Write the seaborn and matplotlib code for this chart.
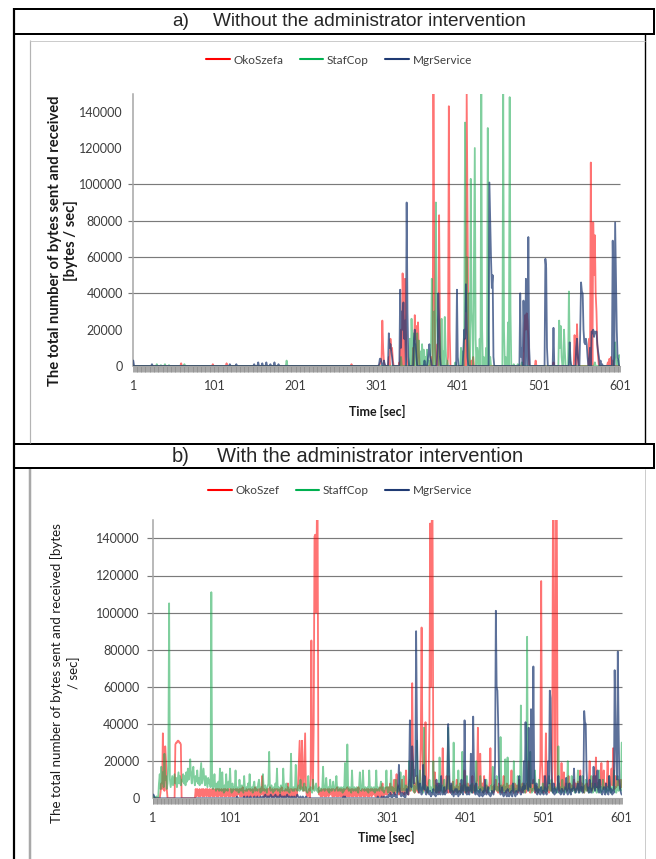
import numpy as np
import pandas as pd
import matplotlib
matplotlib.use("Agg")
import matplotlib.pyplot as plt
import seaborn as sns
from matplotlib.lines import Line2D

# ------------------------------------------------------------------ data
series_a = ["OkoSzefa", "StafCop", "MgrService"]
series_b = ["OkoSzef", "StaffCop", "MgrService"]
time_s = list(range(1, 602))
x_tick_labels = [1, 101, 201, 301, 401, 501, 601]
y_ticks = [0, 20000, 40000, 60000, 80000, 100000, 120000, 140000]
grid_a = [40000, 60000, 80000, 100000]
grid_b = [20000, 40000, 60000, 80000, 100000, 120000, 140000]

# panel a: non-zero samples {second: kB/s}; every other second is 0
oko_a = {60: 1.5, 99: 1, 116: 1.5, 270: 1, 305: 1, 306: 2, 307: 3, 308: 25, 309: 10, 310: 2,
         316: 5, 318: 15, 319: 9, 320: 10, 321: 3, 329: 2, 331: 20, 333: 51, 334: 30, 336: 48,
         337: 20, 338: 5, 346: 10, 348: 28, 349: 15, 350: 22, 352: 24, 353: 8, 368: 5, 371: 150,
         372: 60, 373: 10, 376: 12, 378: 83, 379: 20, 389: 5, 390: 143, 391: 20, 410: 15, 412: 150,
         413: 88, 414: 20, 415: 5, 418: 3, 420: 5, 483: 18, 484: 28, 485: 20, 486: 29, 487: 25,
         488: 15, 497: 3, 519: 2, 545: 17, 546: 5, 548: 23, 549: 8, 563: 15, 565: 112, 566: 40,
         568: 79, 569: 50, 570: 72, 571: 40, 572: 30, 573: 12, 574: 5, 586: 2, 588: 4, 590: 5, 592: 3}
staff_a = {30: 1, 35: 0.5, 40: 1, 45: 0.5, 64: 1, 190: 3, 331: 5, 342: 15, 344: 26, 345: 10,
           347: 18, 349: 12, 351: 18, 353: 14, 355: 8, 357: 12, 359: 9, 361: 5, 363: 9, 365: 3,
           368: 10, 369: 48, 370: 20, 372: 30, 374: 90, 375: 30, 376: 20, 377: 10, 379: 5, 381: 26,
           383: 8, 385: 27, 386: 10, 388: 3, 398: 2, 405: 10, 407: 8, 409: 20, 410: 134, 411: 30,
           412: 60, 413: 25, 415: 40, 417: 103, 418: 30, 419: 20, 421: 60, 422: 120, 423: 15,
           425: 10, 426: 5, 428: 15, 430: 150, 431: 20, 433: 5, 436: 10, 438: 131, 439: 20, 441: 5,
           457: 150, 458: 20, 460: 5, 463: 24, 465: 148, 466: 30, 470: 1, 475: 1, 480: 2, 526: 25,
           527: 10, 528: 22, 529: 5, 532: 20, 533: 8, 538: 41, 539: 10, 570: 2, 594: 5, 595: 13,
           596: 5, 598: 3, 600: 6, 601: 5}
mgr_a = {1: 3, 24: 1, 120: 1, 128: 1, 150: 1, 155: 2, 160: 1.5, 165: 2, 170: 1, 175: 2, 180: 1,
         304: 1, 305: 4, 306: 4, 307: 2, 310: 3, 311: 1, 316: 18, 317: 10, 318: 12, 319: 8, 320: 5,
         330: 42, 331: 10, 332: 30, 333: 20, 334: 35, 335: 15, 336: 25, 338: 90, 339: 30, 340: 5,
         347: 15, 348: 20, 349: 12, 350: 5, 360: 3, 364: 3, 365: 8, 366: 12, 367: 5, 368: 3,
         376: 10, 377: 40, 378: 25, 379: 5, 400: 42, 401: 5, 408: 10, 409: 20, 410: 15, 411: 45,
         412: 25, 413: 5, 440: 101, 441: 80, 442: 59, 443: 43, 444: 50, 445: 5, 478: 40, 479: 5,
         480: 10, 482: 36, 483: 15, 485: 48, 486: 20, 488: 71, 489: 10, 509: 59, 510: 54, 511: 10,
         519: 21, 539: 13, 540: 3, 547: 10, 548: 15, 549: 5, 552: 20, 553: 46, 554: 41, 555: 40,
         556: 20, 557: 13, 558: 12, 559: 15, 560: 12, 561: 5, 564: 10, 566: 19, 567: 18, 568: 20,
         569: 16, 570: 19, 571: 18, 572: 19, 573: 12, 574: 8, 575: 5, 577: 3, 579: 1, 592: 69,
         593: 40, 595: 79, 596: 50, 597: 20, 598: 5, 599: 3}

# panel b: one value per second (kB/s), 20 seconds per row
oko_b = [
    0, 0, 0, 0, 0, 0, 0, 0, 0, 0, 3, 8, 5, 35, 12, 4, 28, 20, 5, 0,
    0, 0, 0, 0, 0, 0, 0, 0, 0, 29, 30, 30, 31, 31, 30, 30, 29, 0, 0, 0,
    0, 0, 0, 0, 0, 0, 0, 0, 0, 0, 0, 0, 0, 0, 0, 5, 1, 5, 4, 1,
    5, 1, 4, 5, 1, 5, 1, 4, 5, 1, 5, 4, 1, 5, 1, 4, 5, 1, 5, 1,
    4, 5, 1, 5, 1, 5, 4, 1, 5, 1, 4, 5, 1, 5, 1, 4, 5, 1, 5, 1,
    5, 4, 1, 5, 1, 4, 5, 1, 5, 2, 4, 5, 1, 5, 1, 6, 5, 1, 4, 1,
    5, 4, 1, 5, 1, 5, 4, 1, 5, 1, 4, 6, 1, 5, 1, 4, 5, 1, 5, 2,
    12, 4, 1, 5, 1, 4, 5, 1, 5, 1, 6, 4, 1, 5, 1, 4, 5, 1, 5, 1,
    5, 4, 1, 5, 1, 6, 5, 1, 4, 1, 5, 4, 1, 8, 1, 4, 5, 1, 5, 1,
    4, 5, 1, 5, 1, 4, 8, 20, 31, 5, 12, 31, 8, 4, 20, 35, 6, 2, 1, 3,
    5, 0, 10, 85, 20, 5, 40, 141, 142, 100, 150, 150, 5, 2, 4, 1, 5, 1, 4, 5,
    1, 5, 1, 4, 5, 1, 5, 2, 4, 5, 1, 5, 1, 4, 5, 1, 6, 1, 4, 5,
    1, 5, 1, 4, 5, 1, 5, 1, 4, 6, 1, 5, 1, 4, 5, 1, 5, 1, 4, 5,
    1, 5, 1, 6, 5, 1, 4, 1, 5, 4, 1, 5, 1, 4, 5, 1, 5, 1, 4, 5,
    1, 5, 2, 4, 5, 1, 5, 1, 4, 5, 1, 6, 1, 5, 8, 1, 4, 2, 5, 6,
    2, 6, 3, 5, 8, 2, 6, 3, 5, 10, 2, 6, 13, 4, 7, 2, 5, 3, 6, 10,
    3, 5, 2, 7, 15, 3, 6, 2, 5, 10, 4, 20, 62, 20, 6, 3, 8, 4, 12, 5,
    3, 7, 10, 30, 92, 30, 6, 4, 10, 41, 8, 3, 6, 12, 40, 148, 60, 150, 150, 15,
    4, 14, 6, 3, 8, 5, 3, 7, 4, 6, 9, 27, 8, 3, 6, 4, 12, 5, 3, 12,
    5, 3, 7, 4, 9, 3, 6, 4, 5, 10, 3, 6, 4, 8, 3, 5, 7, 4, 6, 15,
    3, 6, 4, 8, 3, 5, 7, 4, 6, 12, 3, 5, 7, 4, 8, 10, 38, 10, 5, 24,
    6, 4, 8, 3, 12, 5, 4, 7, 3, 6, 5, 9, 27, 8, 4, 6, 3, 7, 5, 10,
    4, 6, 3, 8, 5, 4, 7, 3, 6, 12, 4, 6, 3, 8, 5, 4, 7, 3, 6, 15,
    4, 6, 3, 8, 5, 4, 7, 3, 6, 10, 4, 6, 3, 8, 5, 4, 7, 3, 6, 8,
    5, 20, 6, 3, 8, 4, 6, 10, 5, 3, 7, 4, 6, 3, 5, 8, 20, 117, 20, 6,
    3, 12, 5, 35, 10, 4, 6, 3, 8, 5, 4, 5, 150, 150, 20, 5, 150, 150, 10, 6,
    4, 8, 5, 19, 6, 4, 14, 7, 5, 8, 4, 6, 12, 5, 8, 4, 7, 5, 6, 10,
    4, 8, 5, 6, 9, 4, 7, 15, 5, 8, 4, 6, 3, 7, 5, 8, 4, 6, 9, 20,
    5, 8, 4, 6, 12, 5, 9, 22, 6, 8, 5, 10, 6, 8, 19, 7, 5, 15, 6, 8,
    5, 9, 20, 6, 8, 5, 10, 16, 7, 27, 8, 5, 12, 6, 9, 7, 10, 8, 5, 10,
    6]
staff_b = [
    0, 0, 1, 0, 0, 1, 0, 0, 8, 13, 5, 17, 8, 14, 6, 24, 10, 12, 5, 8,
    20, 105, 10, 6, 9, 12, 7, 10, 13, 8, 11, 6, 10, 14, 8, 12, 7, 10, 9, 13,
    8, 12, 7, 14, 9, 16, 10, 13, 21, 12, 8, 14, 17, 10, 7, 12, 9, 15, 8, 11,
    7, 13, 19, 8, 12, 16, 10, 7, 12, 9, 6, 11, 8, 10, 6, 111, 10, 5, 7, 13,
    6, 4, 8, 5, 9, 4, 16, 6, 4, 14, 5, 3, 7, 4, 13, 5, 4, 9, 6, 16,
    5, 3, 8, 4, 6, 5, 15, 4, 6, 5, 3, 10, 5, 4, 7, 5, 3, 12, 5, 4,
    6, 4, 8, 5, 13, 4, 5, 6, 3, 7, 9, 4, 5, 6, 4, 8, 10, 5, 3, 6,
    4, 13, 5, 4, 7, 5, 3, 6, 8, 25, 5, 4, 7, 5, 3, 6, 4, 8, 5, 16,
    4, 6, 5, 3, 7, 5, 4, 16, 6, 4, 5, 8, 4, 6, 5, 3, 7, 24, 5, 4,
    6, 4, 5, 18, 6, 4, 5, 7, 4, 10, 5, 6, 4, 5, 8, 4, 6, 5, 3, 12,
    5, 4, 6, 5, 3, 10, 5, 4, 6, 8, 4, 5, 3, 6, 4, 5, 4, 6, 17, 5,
    4, 6, 11, 5, 4, 6, 3, 10, 5, 4, 6, 9, 5, 4, 6, 12, 5, 4, 6, 5,
    4, 6, 5, 3, 6, 4, 19, 5, 6, 29, 5, 4, 6, 5, 3, 15, 5, 4, 6, 5,
    4, 6, 5, 3, 6, 14, 5, 4, 6, 15, 5, 4, 6, 5, 4, 6, 3, 15, 5, 4,
    6, 5, 4, 6, 3, 5, 15, 4, 6, 5, 4, 6, 9, 5, 4, 6, 3, 5, 6, 15,
    5, 3, 6, 4, 5, 15, 4, 6, 3, 5, 4, 10, 5, 3, 6, 4, 7, 14, 5, 4,
    6, 12, 4, 5, 7, 3, 5, 6, 20, 4, 6, 5, 20, 4, 7, 3, 6, 5, 31, 6,
    4, 7, 15, 5, 4, 6, 3, 38, 5, 7, 4, 6, 3, 5, 10, 4, 6, 5, 3, 20,
    5, 4, 7, 3, 6, 5, 4, 22, 6, 4, 5, 7, 3, 10, 4, 6, 5, 8, 38, 5,
    6, 4, 7, 5, 3, 30, 6, 4, 5, 7, 3, 15, 5, 4, 6, 3, 25, 5, 4, 7,
    5, 3, 12, 4, 6, 5, 4, 7, 3, 8, 5, 4, 6, 3, 20, 5, 4, 6, 3, 12,
    5, 4, 6, 3, 5, 4, 7, 10, 5, 3, 6, 4, 5, 7, 3, 17, 5, 4, 6, 5,
    12, 4, 6, 5, 3, 33, 6, 4, 5, 7, 3, 21, 5, 4, 22, 6, 4, 5, 3, 7,
    5, 4, 20, 6, 3, 5, 4, 12, 6, 4, 5, 50, 6, 4, 5, 8, 3, 6, 5, 87,
    6, 4, 5, 25, 6, 3, 5, 4, 6, 15, 5, 4, 6, 3, 10, 5, 4, 6, 3, 8,
    5, 4, 6, 3, 5, 4, 7, 12, 5, 4, 10, 6, 3, 5, 4, 6, 5, 3, 6, 28,
    5, 4, 6, 3, 10, 5, 4, 6, 3, 5, 4, 20, 6, 5, 3, 6, 12, 4, 5, 6,
    3, 5, 4, 6, 15, 5, 3, 6, 4, 5, 12, 6, 3, 5, 10, 4, 6, 5, 3, 6,
    4, 12, 5, 3, 6, 4, 8, 5, 3, 6, 4, 15, 5, 3, 6, 4, 10, 5, 6, 4,
    3, 5, 6, 4, 12, 5, 3, 6, 4, 5, 15, 4, 6, 3, 5, 12, 4, 6, 5, 4,
    30]
mgr_b = [
    2, 2, 1, 0, 0, 0, 0, 0, 0, 0, 0, 0, 0, 0, 0, 0, 0, 0, 0, 0,
    0, 0, 0, 0, 0, 0, 0, 0, 0, 0, 0, 0, 0, 0, 0, 0, 0, 0, 0, 0,
    0, 0, 0, 0, 0, 0, 0, 0, 0, 0, 0, 0, 0, 0, 0, 0, 0, 0, 0, 0,
    0, 0, 0, 0, 0, 0, 0, 0, 0, 0, 0, 0, 0, 0, 0, 0, 0, 0, 0, 0,
    0, 0, 0, 0, 0, 0, 0, 0, 0, 0, 0, 0, 0, 0, 0, 0, 0, 0, 0, 0,
    0, 0, 0, 0, 0, 0, 0, 0, 1, 0, 0, 0, 0, 0, 0, 0, 0, 1, 0, 0,
    0, 1, 0, 0, 0, 1, 0, 0, 0, 0, 1, 0, 0, 0, 1, 0, 0, 0, 1, 0,
    0, 1, 0, 1, 2, 1, 0, 1, 1, 0, 1, 2, 1, 0, 1, 0, 1, 2, 1, 0,
    1, 0, 1, 2, 1, 0, 1, 0, 1, 1, 0, 1, 2, 1, 0, 1, 0, 0, 1, 0,
    0, 1, 0, 0, 1, 2, 1, 0, 0, 1, 0, 0, 1, 0, 0, 0, 1, 0, 0, 0,
    0, 0, 0, 0, 0, 0, 0, 0, 0, 0, 0, 0, 0, 0, 0, 0, 0, 0, 0, 0,
    0, 0, 0, 0, 0, 0, 0, 0, 0, 0, 0, 0, 0, 0, 0, 0, 0, 0, 0, 0,
    0, 0, 0, 0, 1, 0, 1, 0, 0, 0, 0, 0, 0, 0, 0, 0, 0, 0, 0, 0,
    0, 0, 0, 0, 0, 0, 0, 0, 0, 0, 0, 0, 0, 0, 0, 0, 0, 0, 0, 0,
    0, 0, 0, 0, 0, 0, 0, 0, 1, 0, 0, 0, 0, 1, 0, 0, 1, 0, 0, 1,
    1, 0, 2, 1, 3, 1, 0, 2, 1, 3, 1, 2, 0, 3, 8, 18, 5, 2, 1, 3,
    2, 1, 3, 0, 2, 5, 3, 2, 10, 42, 10, 6, 28, 20, 8, 15, 12, 90, 40, 10,
    5, 3, 8, 4, 2, 6, 18, 5, 12, 3, 2, 4, 6, 3, 2, 4, 1, 3, 2, 5,
    2, 3, 1, 10, 4, 2, 8, 3, 2, 12, 4, 2, 3, 6, 2, 4, 3, 12, 40, 20,
    5, 3, 8, 2, 4, 1, 3, 5, 2, 5, 3, 1, 4, 2, 3, 10, 4, 2, 5, 42,
    10, 3, 2, 6, 3, 2, 5, 24, 5, 3, 44, 15, 4, 2, 8, 3, 2, 4, 1, 5,
    2, 3, 1, 4, 2, 10, 3, 2, 4, 6, 2, 3, 1, 2, 4, 3, 2, 5, 20, 101,
    60, 58, 40, 12, 4, 2, 3, 6, 2, 1, 3, 2, 4, 1, 5, 2, 1, 3, 2, 4,
    1, 8, 3, 2, 1, 4, 2, 3, 5, 12, 3, 2, 4, 6, 3, 20, 5, 41, 15, 8,
    4, 38, 18, 6, 48, 20, 8, 71, 15, 5, 3, 8, 2, 4, 5, 3, 2, 6, 3, 4,
    2, 5, 12, 3, 2, 6, 20, 8, 58, 54, 15, 4, 3, 8, 2, 5, 3, 4, 6, 12,
    3, 4, 2, 5, 5, 3, 2, 4, 6, 11, 3, 2, 4, 8, 3, 2, 5, 4, 6, 16,
    5, 3, 4, 6, 8, 3, 5, 12, 4, 6, 3, 5, 47, 41, 40, 15, 6, 4, 3, 10,
    4, 3, 5, 6, 17, 8, 4, 12, 6, 15, 4, 3, 10, 5, 3, 2, 4, 6, 3, 2,
    8, 4, 3, 2, 12, 5, 3, 5, 2, 4, 3, 69, 40, 20, 10, 79, 40, 10, 5, 3,
    2]

for name, arr in [("oko_b", oko_b), ("staff_b", staff_b), ("mgr_b", mgr_b)]:
    if len(arr) != 601:
        raise SystemExit(f"{name} has {len(arr)} values")

# ------------------------------------------------------------------ style
W, H = 656, 859
sns.set_theme(style="white")
plt.rcParams["font.family"] = ["Lato", "DejaVu Sans"]
colors = ["#FF0000", "#19A84E", "#1F3A73"]
alphas = [0.55, 0.55, 0.72]
legend_colors = ["#FF0000", "#00B050", "#1F3A73"]
TICK_COLOR = "#3C3C3C"


def px_x(x):
    return x / W


def px_y(y):
    return 1 - y / H


fig = plt.figure(figsize=(W / 100, H / 100), dpi=100)


def fig_line(xs, ys, color="black", lw=2.0):
    fig.add_artist(Line2D([px_x(v) for v in xs], [px_y(v) for v in ys], color=color,
                          lw=lw * 0.72, transform=fig.transFigure, solid_capstyle="butt"))


def to_frame(names, arrays):
    rows = []
    for n, arr in zip(names, arrays):
        rows.append(pd.DataFrame({"t": time_s, "v": np.asarray(arr, float) * 1000, "series": n}))
    return pd.concat(rows, ignore_index=True)


def sparse(d):
    return [d.get(t, 0) for t in time_s]


def draw_panel(rect_px, names, arrays, grid_vals, px_per_s, ytick_pad):
    x0, y_top, x1, y0 = rect_px
    ax = fig.add_axes([px_x(x0), px_y(y0), (x1 - x0) / W, (y0 - y_top) / H])
    df = to_frame(names, arrays)
    sns.lineplot(data=df, x="t", y="v", hue="series", hue_order=names, palette=colors,
                 estimator=None, legend=False, lw=1.3, ax=ax, zorder=3)
    for ln, a in zip(ax.lines, alphas):
        ln.set_alpha(a)
    ax.set_xlim(1, 601)
    ax.set_ylim(0, 150000)
    ax.hlines(grid_vals, 1 - 5.5 / px_per_s, 601, colors="#7A7A7A", lw=0.85, clip_on=False, zorder=1)
    ax.set_xticks(x_tick_labels)
    ax.set_xticklabels([str(v) for v in x_tick_labels])
    ax.set_xticks(time_s, minor=True)
    ax.tick_params(axis="x", which="both", length=4, width=0.55, color="#8E8E8E",
                   direction="out", bottom=True, labelsize=9, labelcolor=TICK_COLOR, pad=6)
    ax.set_yticks(y_ticks)
    ax.set_yticklabels([str(v) for v in y_ticks])
    ax.tick_params(axis="y", length=0, labelsize=9, labelcolor=TICK_COLOR, pad=ytick_pad)
    for s in ["top", "right"]:
        ax.spines[s].set_visible(False)
    ax.spines["left"].set_color("#A6A6A6")
    ax.spines["left"].set_linewidth(1.1)
    ax.spines["bottom"].set_color("#A6A6A6")
    ax.spines["bottom"].set_linewidth(0.8)
    ax.set_xlabel("")
    ax.set_ylabel("")
    ax.grid(False)
    return ax


# ------------------------------------------------------------------ panels
ax_a = draw_panel((133.3, 93.5, 620.0, 366.0), series_a,
                  [sparse(oko_a), sparse(staff_a), sparse(mgr_a)], grid_a, 0.8117, 7.6)
ax_b = draw_panel((152.7, 519.8, 621.7, 798.3), series_b,
                  [oko_b, staff_b, mgr_b], grid_b, 0.7817, 9.5)

# legends
for names, cx, cy in [(series_a, 339, 60), (series_b, 340, 491)]:
    handles = [Line2D([0], [0], color=c, lw=1.5) for c in legend_colors]
    fig.legend(handles, names, loc="center", bbox_to_anchor=(px_x(cx), px_y(cy)), ncol=3,
               frameon=False, fontsize=8.5, handlelength=2.0, handletextpad=0.3,
               columnspacing=1.4, labelcolor="#404040")

# axis titles
fig.text(px_x(63), px_y(241), "The total number of bytes sent and received\n[bytes / sec]",
         rotation=90, ha="center", va="center", fontsize=10.6, fontweight="bold",
         multialignment="center", linespacing=1.12, color="#1A1A1A")
fig.text(px_x(377), px_y(411.7), "Time [sec]", ha="center", va="center", fontsize=9,
         fontweight="bold", color="#1A1A1A")
fig.text(px_x(65), px_y(673), "The total number of bytes sent and received [bytes\n/ sec]",
         rotation=90, ha="center", va="center", fontsize=9.6,
         multialignment="center", linespacing=1.35, color="#1A1A1A")
fig.text(px_x(386.7), px_y(837.3), "Time [sec]", ha="center", va="center", fontsize=9,
         fontweight="bold", color="#1A1A1A")

# ------------------------------------------------------------------ table frame
fig_line([13, 655], [9, 9])
fig_line([13, 655], [34, 34])
fig_line([14, 14], [8, 859], lw=2.2)
fig_line([654, 654], [8, 35])
fig_line([645, 645], [34, 444], lw=1.4)
fig_line([13, 655], [443.5, 443.5])
fig_line([13, 655], [468, 468])
fig_line([654, 654], [443, 469])
fig_line([30, 30], [40, 443], color="#B4B4B4", lw=1.2)
fig_line([30, 645], [41, 41], color="#CCCCCC", lw=1.0)
fig_line([29.5, 29.5], [469, 859], color="#A8A8A8", lw=2.5)
fig_line([645, 645], [469, 859], color="#CCCCCC", lw=1.0)

fig.text(px_x(172), px_y(21.5), "a)", fontsize=13.7, family="Liberation Sans", va="center", ha="left")
fig.text(px_x(213), px_y(21.5), "Without the administrator intervention", fontsize=13.7,
         family="Liberation Sans", va="center", ha="left")
fig.text(px_x(172), px_y(456), "b)", fontsize=14.5, family="Liberation Sans", va="center", ha="left")
fig.text(px_x(217), px_y(456), "With the administrator intervention", fontsize=14.5,
         family="Liberation Sans", va="center", ha="left")

fig.savefig("out.png", dpi=100)
